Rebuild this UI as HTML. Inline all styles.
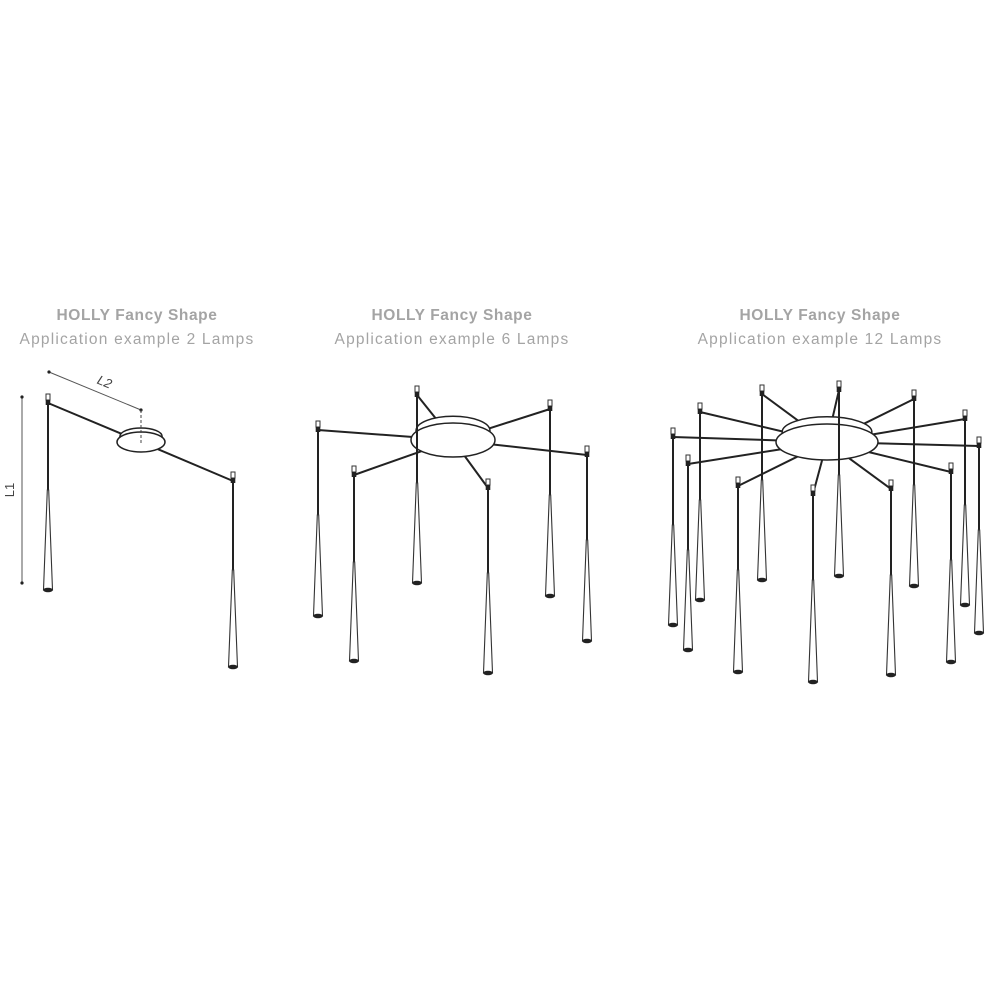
<!DOCTYPE html>
<html><head><meta charset="utf-8"><style>
html,body{margin:0;padding:0;background:#fff;width:1000px;height:1000px;overflow:hidden}
.t{position:absolute;font-family:"Liberation Sans",sans-serif;color:#a4a4a4;font-size:15.5px;text-align:center;width:400px;letter-spacing:0.4px}
.b{font-weight:bold;letter-spacing:0.6px}
.r{letter-spacing:1.2px}
</style></head><body>
<div class="t b" style="left:-63px;top:307px">HOLLY Fancy Shape</div>
<div class="t r" style="left:-63px;top:331px">Application example 2 Lamps</div>
<div class="t b" style="left:252px;top:307px">HOLLY Fancy Shape</div>
<div class="t r" style="left:252px;top:331px">Application example 6 Lamps</div>
<div class="t b" style="left:620px;top:307px">HOLLY Fancy Shape</div>
<div class="t r" style="left:620px;top:331px">Application example 12 Lamps</div>
<svg id="s" width="1000" height="1000" style="position:absolute;left:0;top:0">
<line x1="22" y1="397" x2="22" y2="583" stroke="#555" stroke-width="1"/>
<circle cx="22" cy="397" r="1.6" fill="#222"/><circle cx="22" cy="583" r="1.6" fill="#222"/>
<text x="14" y="490" font-family="Liberation Sans,sans-serif" font-size="13" fill="#444" transform="rotate(-90 14 490)" text-anchor="middle">L1</text>
<line x1="49" y1="372" x2="141" y2="410" stroke="#555" stroke-width="1"/>
<circle cx="49" cy="372" r="1.6" fill="#222"/><circle cx="141" cy="410" r="1.6" fill="#222"/>
<text x="103" y="386" font-family="Liberation Sans,sans-serif" font-style="italic" font-size="13" fill="#444" transform="rotate(22 103 386)" text-anchor="middle">L2</text>
</svg>
<script>
var s=document.getElementById('s'),NS='http://www.w3.org/2000/svg';
function el(t,a){var e=document.createElementNS(NS,t);for(var k in a)e.setAttribute(k,a[k]);s.appendChild(e);return e;}
function group(hub,lamps,dash){
  var cx=hub[0],cy=hub[1],rx=hub[2],ry=hub[3];
  lamps.forEach(function(l){
    var dx=l[0]-cx,dy=(l[1]+9)-cy,a=Math.atan2(dy/ry,dx/rx);
    var hx=cx+rx*0.85*Math.cos(a),hy=cy+ry*0.85*Math.sin(a);
    el('line',{x1:l[0],y1:l[1]+9,x2:hx,y2:hy,stroke:'#222','stroke-width':2});
  });
  el('ellipse',{cx:cx,cy:cy-ry*0.55,rx:rx*0.88,ry:ry*0.85,fill:'#fff',stroke:'#222','stroke-width':1.5});
  el('ellipse',{cx:cx,cy:cy,rx:rx,ry:ry,fill:'#fff',stroke:'#222','stroke-width':1.5});
  if(dash){el('line',{x1:cx,y1:cy-32,x2:cx,y2:cy+3,stroke:'#444','stroke-width':1,'stroke-dasharray':'3,2'});}
  lamps.forEach(function(l){
    var x=l[0],y=l[1],c=l[2],b=l[3];
    el('line',{x1:x,y1:y+8,x2:x,y2:c,stroke:'#222','stroke-width':2});
    el('polygon',{points:(x-0.7)+','+c+' '+(x+0.7)+','+c+' '+(x+4.5)+','+b+' '+(x-4.5)+','+b,fill:'#fff',stroke:'#333','stroke-width':1.1});
    el('ellipse',{cx:x,cy:b,rx:4.8,ry:2.3,fill:'#222'});
    el('rect',{x:x-2,y:y,width:4,height:6,fill:'#fff',stroke:'#333','stroke-width':1});
    el('rect',{x:x-2.3,y:y+6,width:4.6,height:5,fill:'#222'});
  });
}
group([141,442,24,10],[[48,394,490,590],[233,472,570,667]],true);
group([453,440,42,17],[[318,421,515,616],[417,386,483,583],[550,400,495,596],[587,446,540,641],[354,466,562,661],[488,479,573,673]],false);
group([827,442,51,18],[[673,428,525,625],[700,403,500,600],[688,455,550,650],[762,385,480,580],[738,477,570,672],[839,381,475,576],[813,485,580,682],[914,390,485,586],[891,480,575,675],[965,410,505,605],[951,463,560,662],[979,437,530,633]],false);
</script>
</body></html>
